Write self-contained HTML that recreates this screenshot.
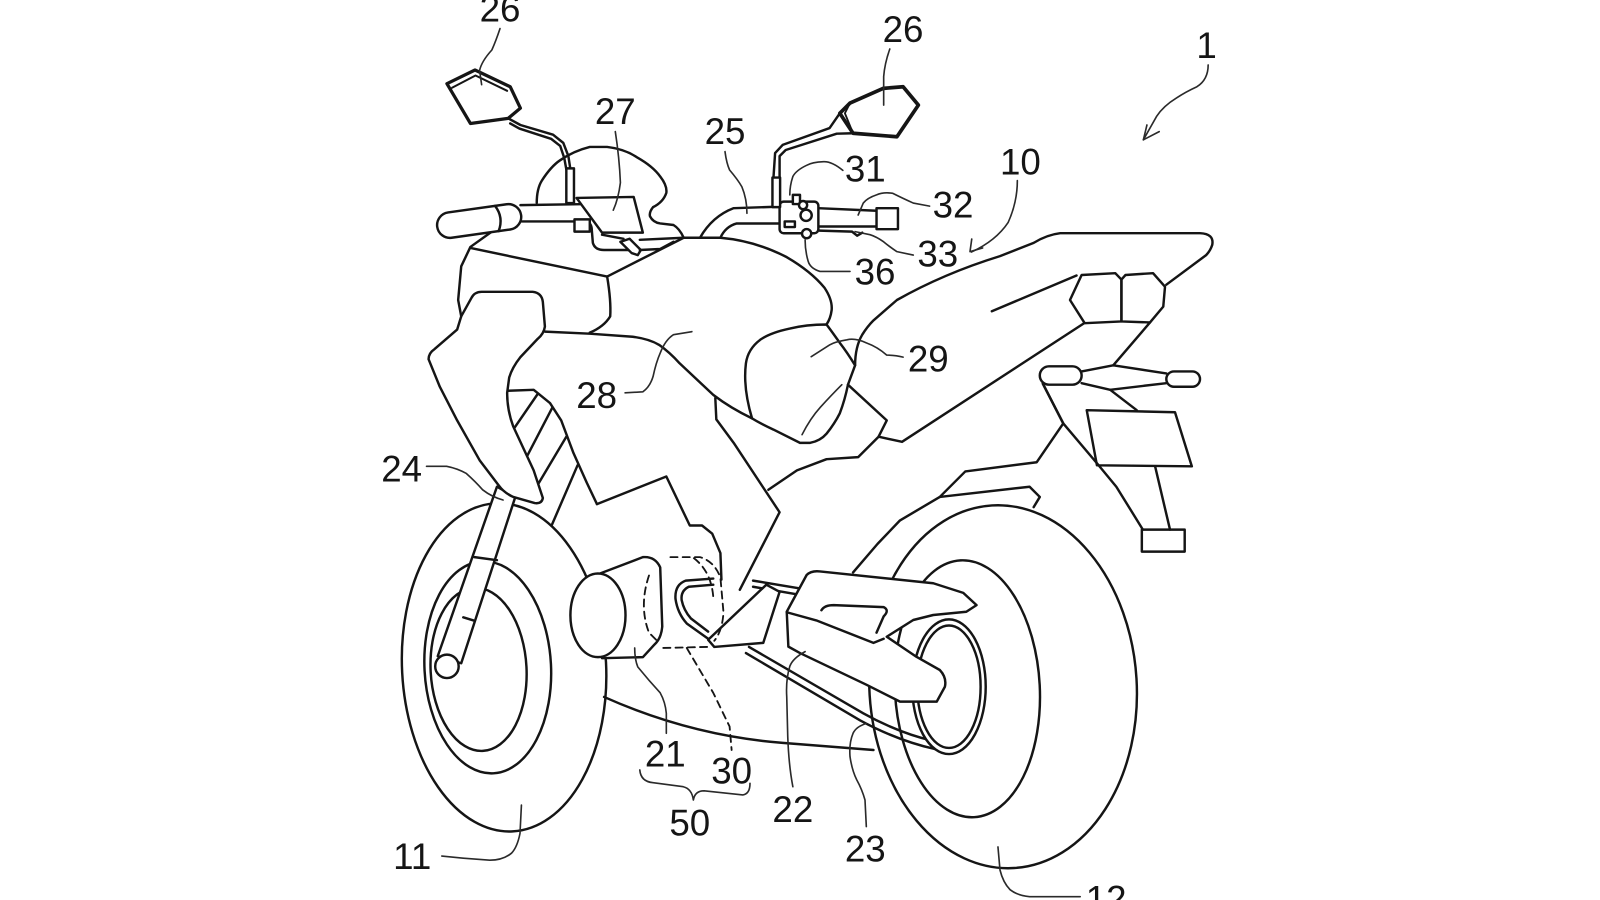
<!DOCTYPE html>
<html>
<head>
<meta charset="utf-8">
<style>
html,body{margin:0;padding:0;background:#fff;width:1600px;height:900px;overflow:hidden;}
svg{display:block;}
text{font-family:"Liberation Sans",sans-serif;font-size:36px;fill:#151515;text-anchor:middle;}
</style>
</head>
<body>
<svg width="1600" height="900" viewBox="0 0 1568 882" preserveAspectRatio="none" xmlns="http://www.w3.org/2000/svg">
<rect width="1568" height="882" fill="#fff"/>
<g fill="none" stroke="#151515" stroke-width="2.4" stroke-linejoin="round" stroke-linecap="round">

<!-- rear wheel -->
<ellipse cx="983" cy="673" rx="131" ry="178" transform="rotate(-3.5 983 673)"/>
<ellipse cx="948" cy="675" rx="71" ry="126" transform="rotate(-3 948 675)"/>
<!-- rear fender / subframe -->
<polyline points="836,561 860,533 882,510 921,487 1009,477 1019,487 1013,497"/>
<polyline points="921,487 946,462 1016,453 1042,415 1022,376"/>
<!-- chain -->
<path d="M731,640 L843,706 Q880,726 916,734"/>
<path d="M734,634 L846,699 Q880,718 914,726"/>
<path d="M738,569 L792,578"/>
<path d="M738,575 L790,584"/>
<ellipse cx="930" cy="673" rx="36" ry="66" fill="#fff"/>
<ellipse cx="930" cy="673" rx="31" ry="60"/>
<!-- swingarm -->
<path fill="#fff" d="M790.5,563.5 Q795,559 803.6,560 L914.6,571.6 L944,581 L957,593 L947,599.5 L914.6,602.7 L895,607.6 L869,624 L898,643.6 L921,656.6 Q928,664 926,673 L918,687.6 L882,687.6 L849,671 L784,640 L772.6,633.7 L771,599.5 Z"/>
<polyline points="771,600 800,608 856,630 866,626"/>
<path d="M805,598 Q808,593 817,593 L866,595 Q872,598 866,604 L859,620"/>

<!-- front wheel -->
<ellipse cx="494" cy="654" rx="100" ry="161" transform="rotate(-3 494 654)"/>
<ellipse cx="478" cy="654" rx="62" ry="104" transform="rotate(-3 478 654)"/>
<ellipse cx="469" cy="656" rx="47" ry="80" transform="rotate(-3 469 656)"/>

<!-- belly -->
<path d="M592,683 C630,700 690,722 767,728 L856,735"/>

<!-- U hook and block -->
<path d="M699,567 L672,569 Q661,573 662,587 Q664,601 673,611 L694,626"/>
<path d="M699,573 L675,575 Q667,579 668,588 Q670,598 677,606 L694,619"/>
<polygon fill="#fff" points="694,627 751,573 764,580 748,630 700,634"/>

<!-- cylinder 21 -->
<path fill="#fff" d="M588,562 L630,546 Q642,545 647,556 L649,614 Q648,626 641,632 L630,644 L590,645 Z"/>
<ellipse cx="586" cy="603" rx="27" ry="41" fill="#fff"/>

<!-- dashed hidden lines -->
<g stroke-width="1.8" stroke-dasharray="7 5">
<path d="M636,564 Q626,594 636,620 L646,630"/>
<path d="M657,546 L686,546 Q700,550 706,566 L709,600 Q708,618 700,628"/>
<path d="M680,547 Q697,560 699,585"/>
<path d="M650,635 L693,634"/>
<path d="M673,635 L699,679 L715,712 L717,735"/>
</g>

<!-- frame / engine -->
<polyline points="701,390 702,411 719,434 764,502 725,578"/>
<polyline points="585,494 653,467 676,515 688,515 698,523 706,542 707,568"/>
<polyline points="497,383 523,382 539,395 550,412 562,444 575,473 585,494"/>
<line x1="503" y1="421" x2="527" y2="386"/>
<line x1="516" y1="448" x2="541" y2="400"/>
<line x1="527" y1="475" x2="555" y2="428"/>
<line x1="541" y1="514" x2="566" y2="456"/>

<!-- fork -->
<polygon fill="#fff" points="487,477 505,487 452,650 429,643"/>
<line x1="465" y1="546" x2="487" y2="549"/>
<line x1="454" y1="605" x2="464" y2="608"/>
<circle cx="438" cy="653" r="11.5" fill="#fff"/>

<!-- cowl side piece -->
<path fill="#fff" d="M452,310 L462,292 Q465,286 472,286 L522,286 Q531,287 532,296 L534,320 Q533,327 527,332 L510,350 Q502,360 499,370 L497,385 Q497,402 503,418 L523,461 L532,488 Q531,494 524,493 L503,487 Q494,483 489,476 L470,451 L448,412 L431,379 L420,352 Q420,346 426,342 L448,323 Z"/>
<polyline points="482,227 461,242 452,261 449,294 452,310"/>
<polyline points="461,243 595,271 670,233"/>
<path d="M595,271 Q599,295 598,310 Q592,320 578,326"/>

<!-- tank -->
<path d="M534,325 L578,327 L620,330 Q636,332 646,338 Q656,345 666,356 L699,387 Q716,400 737,410"/>
<path d="M670,233 L706,233 Q740,236 771,252 Q795,266 808,282 Q816,294 815,304 Q814,312 810,318"/>
<!-- knee pad 29 -->
<path d="M810,318 Q790,318 774,322 Q755,326 745,333 Q733,342 731,356 Q728,380 737,410 Q745,415 758,421 L784,434 L794,434 Q804,432 810,425 Q818,415 823,405 Q828,392 831,377 L838,358 Q830,345 823,336 Q816,326 810,318"/>
<!-- seat / tail -->
<path d="M838,358 Q838,340 845,328 Q850,320 856,314 L879,294 Q925,268 980,251 L1013,238 Q1026,230 1039,228.5 L1176,228.5 Q1190,229 1188,240 Q1186,246 1182,250 L1143,279"/>
<polyline points="831,377 869,412 861,428 841,448 810,450 781,461 753,480"/>
<polyline points="861,428 884,433 1062,317"/>
<line x1="972" y1="305" x2="1055" y2="270"/>
<polygon points="1060,269.5 1093,267.7 1099,274 1099,315 1063,316.7 1048.6,294"/>
<polygon points="1103,269.5 1130,267.7 1141.7,281 1140,300.5 1127,316 1099,315 1099,274"/>
<line x1="1127" y1="316" x2="1091" y2="358"/>
<polyline points="1060,364 1091,358 1143,366"/>
<polyline points="1060,375.5 1088,382 1143,375.5"/>
<rect x="1019" y="359" width="41" height="18" rx="9" fill="#fff"/>
<rect x="1143" y="364" width="33" height="15" rx="7.5" fill="#fff"/>
<polyline points="1022,376 1042,415 1075,454 1094,477 1120,519"/>
<line x1="1088" y1="382" x2="1114" y2="402"/>
<polygon points="1065,402 1151.5,404 1168,457 1075,456"/>
<line x1="1132" y1="457" x2="1146.6" y2="519"/>
<rect x="1119" y="519" width="42" height="21.6"/>

<!-- windscreen -->
<path d="M526,199 Q526,185 531,177 Q540,163 549,157 Q562,148 578,144 L595,144 Q612,146 624,154 Q640,163 647,173 Q654,182 653,189 Q650,198 640,203 Q636,208 637,212 Q640,218 647,219 L660,220.5 Q666,224 670,233"/>

<!-- left handlebar -->
<path d="M510,201 L576,200 Q585,201 587,208 L590,226"/>
<path d="M511,217 L575,217 Q580,219 580,226 L581,238 Q583,245 592,245 L616,245"/>
<polyline points="590,230 611,234"/>
<polygon fill="#fff" points="565,194 621,193 630,228 590,228"/>
<rect x="563" y="215" width="15" height="12" fill="#fff"/>
<polygon fill="#fff" points="608,237 617,234 628,245 625,250 619,248"/>
<polyline points="627,235 670,233"/>
<polyline points="627,245 647,244 660,237"/>
<g transform="rotate(-8 470 216)">
<rect x="428" y="204" width="83" height="25" rx="12.5" fill="#fff"/>
<path d="M487,204 Q494,216.5 487,229"/>
</g>

<!-- right handlebar -->
<path d="M686,233 Q698,212 719,204 L764,202.5"/>
<path d="M706,233 Q711,222 722,219 L764,219"/>
<polyline points="802,204 859,206.5"/>
<polyline points="802,222 859,222"/>
<polyline points="803,226 835,227 840,231 845,228"/>
<rect x="859" y="204" width="21" height="20.6" fill="#fff"/>
<rect x="764" y="197.6" width="38" height="31" rx="4" fill="#fff"/>
<rect x="777" y="191" width="7" height="9" fill="#fff"/>
<circle cx="787" cy="201" r="4" fill="#fff"/>
<circle cx="790" cy="211" r="5.5" fill="#fff"/>
<rect x="769" y="217" width="10" height="5.5" fill="#fff"/>
<circle cx="790.5" cy="229" r="4.5" fill="#fff"/>

<!-- mirror stems -->
<polyline points="498,116 510,122.5 542,132 552,140 557,153 559,166"/>
<polyline points="500,121 509,126 540,136 549,143 553,155 555,166"/>
<rect x="555" y="165" width="7.5" height="34" fill="#fff"/>
<polyline points="823,111 813,125.5 767,142 759.6,150 758,174"/>
<polyline points="836,130.6 820,131 770,147 764,153 764,174"/>
<rect x="757" y="174" width="7.5" height="29" fill="#fff"/>
<!-- mirror heads -->
<polygon stroke-width="3.2" points="438,82 465.5,68.6 500,85 510,106 498,116 461,121"/>
<polyline stroke-width="2" points="443,86 466,74 497,89"/>
<polygon stroke-width="3.6" points="823,111 833,101 865.7,86.6 885,85 900,103 879,134 836,130.6"/>
<polyline stroke-width="1.8" points="833,101 828,111 836,130.6"/>
</g>

<!-- leader lines -->
<g fill="none" stroke="#2a2a2a" stroke-width="1.6" stroke-linejoin="round" stroke-linecap="round">
<path d="M490,28 Q486,40 482,49 Q472,60 470,69 L472,83"/>
<path d="M872,48 Q867,62 866,75 L866,103"/>
<path d="M603,129 Q607,155 608,179 Q606,195 601,206"/>
<path d="M710.5,148.6 Q712,160 715,166.6 Q723,176 727,183 Q732,195 732,209"/>
<path d="M826,167 Q815,158 807,158.5 Q796,159 790.5,162 Q780,167 777,173 Q774,182 774,191"/>
<path d="M911,202 L895,199 Q884,194 875,189.5 Q866,188 859,191 Q850,194 846,199 L841,210.7"/>
<path d="M895,250 L879,246.6 Q872,242 866,237 Q859,232 852.6,230 L838,227"/>
<path d="M833,266 L803.6,266 Q794,263 792,256 Q789,246 789,235"/>
<path d="M997,177 Q997,198 988,218 Q976,236 952,247"/>
<path d="M952.3,234.3 L950.6,246.6 L963,243"/>
<path d="M1184,63.7 Q1184,78 1173,85 Q1162,90 1153,96 Q1140,104 1133.5,114 L1120.5,137"/>
<path d="M1124,122.5 L1120.5,137 L1136,129"/>
<path d="M885,350 Q878,348 869,348 Q860,340 849,336 Q838,331 830,333 Q818,335 813,338 L795,349.5"/>
<path d="M612.6,385 L630,384 Q637,379 640,369 Q643,355 647,346 Q652,333 660,328 L678,325"/>
<path d="M786,426 Q794,410 804,399 Q815,387 825,377"/>
<path d="M418,457 L437.7,457 Q448,459 457,464 Q466,472 473,480 Q482,487 493,490"/>
<path d="M622,635 Q622,646 625,653.5 Q636,667 647,679 Q652,688 653,699 L653,718.6"/>
<path d="M789,638.6 Q777,645 774,653 Q770,666 771,682.7 L772,722 Q773,750 777,771"/>
<path d="M849,709 Q839,712 836,718.6 Q832,728 833,741.5 Q835,755 839.5,764 Q845,774 847.7,784 L849,810"/>
<path d="M511,789 L509.6,816.7 Q507,830 501.4,836 Q493,843 480,843 L454,841 L433,839"/>
<path d="M978,830 L980,852.6 Q983,865 990,872 Q998,878 1009,878.7 L1058.6,878.7"/>
<path d="M627,754.6 Q628,766 640,767 L669.6,771 Q678,773 679.5,784 Q681,775 690,775 L728,779 Q735,778 735,767.6"/>
</g>

<!-- labels -->
<text x="490" y="21">26</text>
<text x="885" y="41">26</text>
<text x="603" y="121.5">27</text>
<text x="710.5" y="141">25</text>
<text x="848" y="178">31</text>
<text x="934" y="213">32</text>
<text x="919" y="261">33</text>
<text x="857.5" y="279">36</text>
<text x="1000" y="171">10</text>
<text x="1182.5" y="57">1</text>
<text x="909.7" y="364">29</text>
<text x="584.7" y="400">28</text>
<text x="393.6" y="472">24</text>
<text x="652" y="751">21</text>
<text x="717" y="768">30</text>
<text x="676" y="819">50</text>
<text x="777" y="805.6">22</text>
<text x="848" y="844.4">23</text>
<text x="404" y="851.6">11</text>
<text x="1084" y="893.5">12</text>
</svg>
</body>
</html>
